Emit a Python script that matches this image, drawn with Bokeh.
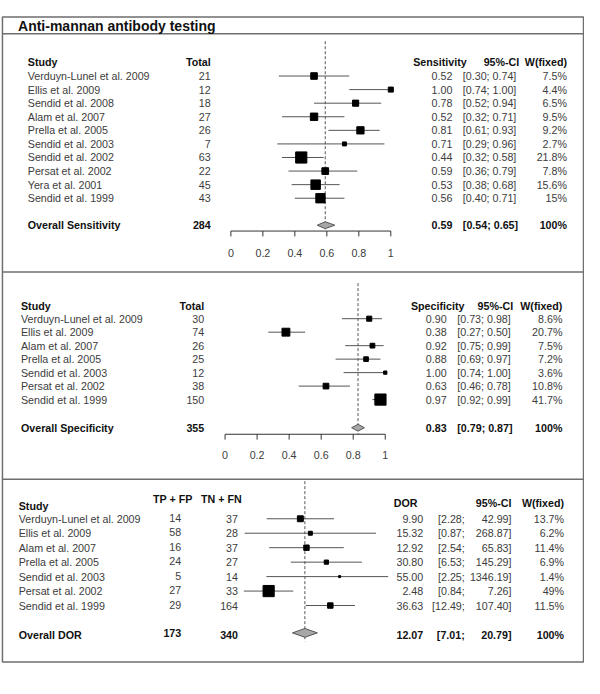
import numpy as np
from bokeh.plotting import figure
from bokeh.models import Range1d, LogScale
from bokeh.embed import file_html
from bokeh.resources import INLINE
from bokeh.core.properties import value

# ---------------- data ----------------
title_text = "Anti-mannan antibody testing"

sens_studies = ["Verduyn-Lunel et al. 2009", "Ellis et al. 2009", "Sendid et al. 2008",
                "Alam et al. 2007", "Prella et al. 2005", "Sendid et al. 2003",
                "Sendid et al. 2002", "Persat et al. 2002", "Yera et al. 2001",
                "Sendid et al. 1999"]
sens_total = [21, 12, 18, 27, 26, 7, 63, 22, 45, 43]
sens_est = [0.52, 1.00, 0.78, 0.52, 0.81, 0.71, 0.44, 0.59, 0.53, 0.56]
sens_lo = [0.30, 0.74, 0.52, 0.32, 0.61, 0.29, 0.32, 0.36, 0.38, 0.40]
sens_hi = [0.74, 1.00, 0.94, 0.71, 0.93, 0.96, 0.58, 0.79, 0.68, 0.71]
sens_w = [7.5, 4.4, 6.5, 9.5, 9.2, 2.7, 21.8, 7.8, 15.6, 15.0]
sens_overall_total = 284
sens_overall = [0.59, 0.54, 0.65]

spec_studies = ["Verduyn-Lunel et al. 2009", "Ellis et al. 2009", "Alam et al. 2007",
                "Prella et al. 2005", "Sendid et al. 2003", "Persat et al. 2002",
                "Sendid et al. 1999"]
spec_total = [30, 74, 26, 25, 12, 38, 150]
spec_est = [0.90, 0.38, 0.92, 0.88, 1.00, 0.63, 0.97]
spec_lo = [0.73, 0.27, 0.75, 0.69, 0.74, 0.46, 0.92]
spec_hi = [0.98, 0.50, 0.99, 0.97, 1.00, 0.78, 0.99]
spec_w = [8.6, 20.7, 7.5, 7.2, 3.6, 10.8, 41.7]
spec_overall_total = 355
spec_overall = [0.83, 0.79, 0.87]

dor_studies = ["Verduyn-Lunel et al. 2009", "Ellis et al. 2009", "Alam et al. 2007",
               "Prella et al. 2005", "Sendid et al. 2003", "Persat et al. 2002",
               "Sendid et al. 1999"]
dor_tpfp = [14, 58, 16, 24, 5, 27, 29]
dor_tnfn = [37, 28, 37, 27, 14, 33, 164]
dor_est = [9.90, 15.32, 12.92, 30.80, 55.00, 2.48, 36.63]
dor_lo = [2.28, 0.87, 2.54, 6.53, 2.25, 0.84, 12.49]
dor_hi = [42.99, 268.87, 65.83, 145.29, 1346.19, 7.26, 107.40]
dor_w = [13.7, 6.2, 11.4, 6.9, 1.4, 49.0, 11.5]
dor_overall_tpfp = 173
dor_overall_tnfn = 340
dor_overall = [12.07, 7.01, 20.79]

axis_ticks = [0, 0.2, 0.4, 0.6, 0.8, 1]
axis_labels = ["0", "0.2", "0.4", "0.6", "0.8", "1"]

# ---------------- layout / style ----------------
FONT = "Liberation Sans"
BODY = "10.7px"
TITLE = "14px"
TXT = "#3c3c3c"
BOLD = "#111111"
LINE = "#555555"
BORDER = "#6e6e6e"
SQ_MAX = 11.2
DOR_XMAX = 458.0  # forest x-limit of the DOR panel

W, H = 584, 678
RW, RH = 600, 694

p = figure(width=W, height=H, x_range=Range1d(0, RW), y_range=Range1d(RH, 0),
           output_backend="svg", toolbar_location=None, min_border=0,
           x_axis_location=None, y_axis_location=None)
p.grid.visible = False
p.outline_line_color = None


def lin_range(x0_px, x1_px):
    span = x1_px - x0_px
    return Range1d(-x0_px / span, (RW - x0_px) / span)


DOR_ONE = 254.1   # ref px of DOR = 1
DOR_DEC = 54.2    # ref px per decade
p.extra_x_ranges = {
    "sens": lin_range(236.7, 401.0),
    "spec": lin_range(230.7, 395.3),
    "dor": Range1d(10 ** (-DOR_ONE / DOR_DEC), 10 ** ((RW - DOR_ONE) / DOR_DEC)),
}
p.extra_x_scales = {"dor": LogScale()}


def txt(x, y, s, align="left", bold=False, size=BODY, rn="default"):
    if not isinstance(s, list):
        x, y, s = [x], [y], [s]
    if not isinstance(x, list):
        x = [x] * len(s)
    if not isinstance(y, list):
        y = [y] * len(s)
    p.text(x=x, y=y, text=s, text_align=align, text_baseline="middle",
           text_font=value(FONT), text_font_size=size,
           text_font_style="bold" if bold else "normal",
           text_color=BOLD if bold else TXT, x_range_name=rn)


def fmt_w(w):
    return f"{w:g}%"


# border and separators
p.quad(left=[2], right=[599], top=[17], bottom=[677], fill_color=None,
       line_color=BORDER, line_width=1.5)
p.segment(x0=[2, 2, 2], x1=[599, 599, 599], y0=[34, 278, 490], y1=[34, 278, 490],
          line_color=BORDER, line_width=1.5)

txt(18, 26, title_text, bold=True, size=TITLE)


def forest_panel(rn, studies, totals, est, lo, hi, w, ov_total, ov, lab,
                 x_study, x_total, x_est, x_ci, x_w, x_head, x_ci_head,
                 y_head, y0, dy, y_ov, dash_top, y_axis, y_tlab):
    n = len(studies)
    ys = [y0 + dy * i for i in range(n)]
    # headers
    txt(x_study, y_head, "Study", bold=True)
    txt(x_total, y_head, "Total", align="right", bold=True)
    txt(x_head, y_head, lab, bold=True)
    txt(x_ci_head, y_head, "95%-CI", align="right", bold=True)
    txt(x_w, y_head, "W(fixed)", align="right", bold=True)
    # rows
    txt(x_study, ys, list(studies))
    txt(x_total, ys, [str(t) for t in totals], align="right")
    txt(x_est, ys, [f"{v:.2f}" for v in est], align="right")
    txt(x_ci, ys, [f"[{a:.2f}; {b:.2f}]" for a, b in zip(lo, hi)])
    txt(x_w, ys, [fmt_w(v) for v in w], align="right")
    # overall
    txt(x_study, y_ov, "Overall " + lab, bold=True)
    txt(x_total, y_ov, str(ov_total), align="right", bold=True)
    txt(x_est, y_ov, f"{ov[0]:.2f}", align="right", bold=True)
    txt(x_ci, y_ov, f"[{ov[1]:.2f}; {ov[2]:.2f}]", bold=True)
    txt(x_w, y_ov, "100%", align="right", bold=True)
    # graphics
    wmax = max(w)
    sizes = [SQ_MAX * np.sqrt(v / wmax) for v in w]
    p.segment(x0=[ov[0]], x1=[ov[0]], y0=[dash_top], y1=[y_axis], x_range_name=rn,
              line_color=LINE, line_width=1, line_dash="3 2")
    p.segment(x0=lo, x1=hi, y0=ys, y1=ys, x_range_name=rn, line_color=LINE, line_width=1)
    p.scatter(x=est, y=ys, size=sizes, marker="square", fill_color="black",
              line_color="black", x_range_name=rn)
    p.patches(xs=[[ov[1], ov[0], ov[2], ov[0]]],
              ys=[[y_ov, y_ov - 3.5, y_ov, y_ov + 3.5]], x_range_name=rn,
              fill_color="#a8a8a8", line_color="#555555", line_width=1)
    # axis
    p.segment(x0=[axis_ticks[0]], x1=[axis_ticks[-1]], y0=[y_axis], y1=[y_axis],
              x_range_name=rn, line_color="#333333", line_width=1)
    p.segment(x0=axis_ticks, x1=axis_ticks, y0=[y_axis] * len(axis_ticks),
              y1=[y_axis + 5.5] * len(axis_ticks), x_range_name=rn,
              line_color="#333333", line_width=1)
    txt(axis_ticks, y_tlab, axis_labels, align="center", rn=rn)


forest_panel("sens", sens_studies, sens_total, sens_est, sens_lo, sens_hi, sens_w,
             sens_overall_total, sens_overall, "Sensitivity",
             x_study=28, x_total=216, x_est=464.3, x_ci=475, x_w=582,
             x_head=424, x_ci_head=533, y_head=63.4, y0=77.3, dy=13.9,
             y_ov=230, dash_top=41.7, y_axis=236, y_tlab=258)

forest_panel("spec", spec_studies, spec_total, spec_est, spec_lo, spec_hi, spec_w,
             spec_overall_total, spec_overall, "Specificity",
             x_study=21, x_total=209.3, x_est=458.3, x_ci=469.3, x_w=577.3,
             x_head=421.7, x_ci_head=526.7, y_head=312.3, y0=325.7, dy=13.8,
             y_ov=437.3, dash_top=289.3, y_axis=444, y_tlab=465)

# ---------------- DOR panel ----------------
n = len(dor_studies)
ys = [530.5 + 14.8 * i for i in range(n)]
y_ov = 649.3
txt(156.7, 510, "TP + FP", bold=True)
txt(206, 510, "TN + FN", bold=True)
txt(18.7, 517.7, "Study", bold=True)
txt(404, 514.3, "DOR", bold=True)
txt(525, 514.3, "95%-CI", align="right", bold=True)
txt(579, 514.3, "W(fixed)", align="right", bold=True)

txt(18.7, ys, list(dor_studies))
txt(185.7, [y - 1 for y in ys], [str(v) for v in dor_tpfp], align="right")
txt(244, ys, [str(v) for v in dor_tnfn], align="right")
txt(434.3, ys, [f"{v:.2f}" for v in dor_est], align="right")
txt(477, ys, [f"[{v:.2f};" for v in dor_lo], align="right")
txt(525, ys, [f"{v:.2f}]" for v in dor_hi], align="right")
txt(579, ys, [fmt_w(v) for v in dor_w], align="right")

txt(18.7, y_ov, "Overall DOR", bold=True)
txt(185.7, y_ov - 2, str(dor_overall_tpfp), align="right", bold=True)
txt(244, y_ov, str(dor_overall_tnfn), align="right", bold=True)
txt(434.3, y_ov, f"{dor_overall[0]:.2f}", align="right", bold=True)
txt(477, y_ov, f"[{dor_overall[1]:.2f};", align="right", bold=True)
txt(525, y_ov, f"{dor_overall[2]:.2f}]", align="right", bold=True)
txt(579, y_ov, "100%", align="right", bold=True)

wmax = max(dor_w)
sizes = [max(SQ_MAX * np.sqrt(v / wmax), 2.0) for v in dor_w]
p.segment(x0=[dor_overall[0]], x1=[dor_overall[0]], y0=[492], y1=[656],
          x_range_name="dor", line_color=LINE, line_width=1, line_dash="3 2")
p.segment(x0=dor_lo, x1=list(np.minimum(dor_hi, DOR_XMAX)), y0=ys, y1=ys,
          x_range_name="dor", line_color=LINE, line_width=1)
p.scatter(x=dor_est, y=ys, size=sizes, marker="square", fill_color="black",
          line_color="black", x_range_name="dor")
p.patches(xs=[[dor_overall[1], dor_overall[0], dor_overall[2], dor_overall[0]]],
          ys=[[y_ov - 2, y_ov - 6.5, y_ov - 2, y_ov + 2.5]], x_range_name="dor",
          fill_color="#a8a8a8", line_color="#555555", line_width=1)

open("out.html", "w").write(file_html(p, INLINE))
